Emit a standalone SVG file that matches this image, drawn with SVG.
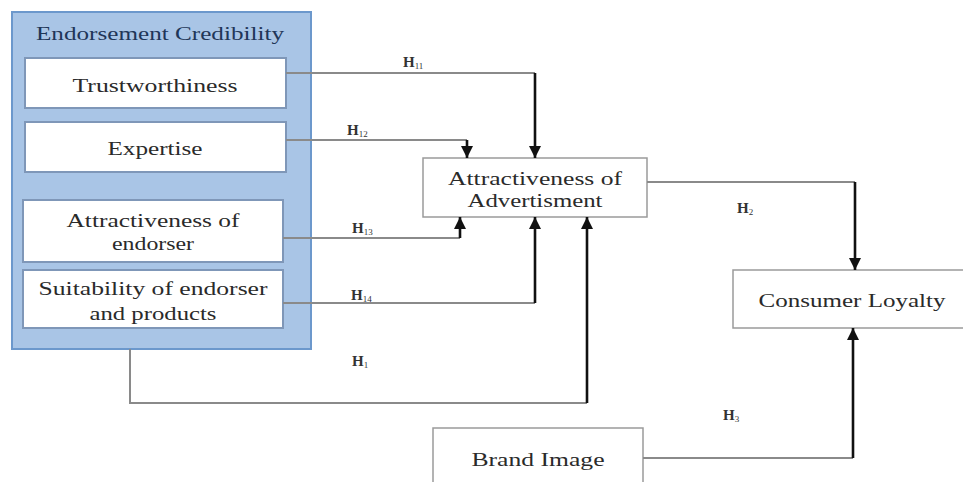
<svg xmlns="http://www.w3.org/2000/svg" width="963" height="482" viewBox="0 0 963 482">
<style>
.t{font-family:"Liberation Serif","Times New Roman",serif;font-size:19px;fill:#2a2a2a;text-anchor:middle}
.lab{font-family:"Liberation Serif","Times New Roman",serif;font-size:15px;fill:#333;font-weight:bold}
.sub{font-size:9px;font-weight:normal}
.inner{fill:#fff;stroke:#7f97b8;stroke-width:2}
.box{fill:#fff;stroke:#9a9a9a;stroke-width:1.5}
.h{fill:none;stroke:#8a8a8a;stroke-width:2}
.v{fill:none;stroke:#111;stroke-width:2.6;marker-end:url(#arr)}
</style>
<defs>
<marker id="arr" markerUnits="userSpaceOnUse" markerWidth="12" markerHeight="12" refX="10" refY="5" orient="auto" viewBox="0 0 10 10">
<path d="M0,0 L10,5 L0,10 z" fill="#111"/>
</marker>
</defs>
<rect width="963" height="482" fill="#fff"/>
<g id="endorsement-credibility">
<rect x="12" y="12" width="299" height="337" fill="#a9c5e6" stroke="#6c98cc" stroke-width="2"/>
<text x="160" y="40" class="t" style="fill:#1f3658;font-size:18px" textLength="248" lengthAdjust="spacingAndGlyphs">Endorsement Credibility</text>
</g>
<g id="trustworthiness">
<rect x="25" y="58" width="261" height="50" class="inner"/>
<text x="155" y="92" class="t" textLength="165" lengthAdjust="spacingAndGlyphs">Trustworthiness</text>
</g>
<g id="expertise">
<rect x="25" y="122" width="261" height="50" class="inner"/>
<text x="155" y="155" class="t" textLength="95" lengthAdjust="spacingAndGlyphs">Expertise</text>
</g>
<g id="attractiveness-endorser">
<rect x="23" y="200" width="260" height="62" class="inner"/>
<text x="153" y="227" class="t" textLength="173" lengthAdjust="spacingAndGlyphs">Attractiveness of</text>
<text x="153" y="250" class="t" textLength="82" lengthAdjust="spacingAndGlyphs">endorser</text>
</g>
<g id="suitability">
<rect x="23" y="270" width="260" height="58" class="inner"/>
<text x="153" y="295" class="t" textLength="229" lengthAdjust="spacingAndGlyphs">Suitability of endorser</text>
<text x="153" y="320" class="t" textLength="127" lengthAdjust="spacingAndGlyphs">and products</text>
</g>
<g id="attractiveness-advertisment">
<rect x="423" y="158" width="224" height="59" class="box"/>
<text x="535" y="185" class="t" textLength="174" lengthAdjust="spacingAndGlyphs">Attractiveness of</text>
<text x="535" y="207" class="t" textLength="135" lengthAdjust="spacingAndGlyphs">Advertisment</text>
</g>
<g id="consumer-loyalty">
<rect x="733" y="270" width="240" height="58" class="box"/>
<text x="852" y="307" class="t" textLength="187" lengthAdjust="spacingAndGlyphs">Consumer Loyalty</text>
</g>
<g id="brand-image">
<rect x="433" y="428" width="210" height="60" class="box"/>
<text x="538" y="466" class="t" textLength="133" lengthAdjust="spacingAndGlyphs">Brand Image</text>
</g>
<g id="connectors">
<path class="h" d="M286,73 H535"/>
<path class="v" d="M535,73 V158"/>
<path class="h" d="M286,140 H467"/>
<path class="v" d="M467,140 V158"/>
<path class="h" d="M283,238 H460"/>
<path class="v" d="M460,238 V217"/>
<path class="h" d="M283,303 H535"/>
<path class="v" d="M535,303 V217"/>
<path class="h" d="M130,349 V403 H587"/>
<path class="v" d="M587,403 V217"/>
<path class="h" d="M647,182 H855"/>
<path class="v" d="M855,182 V270"/>
<path class="h" d="M643,458 H853"/>
<path class="v" d="M853,458 V328"/>
<text x="403" y="67" class="lab">H<tspan class="sub" dy="2">11</tspan></text>
<text x="347" y="135" class="lab">H<tspan class="sub" dy="2">12</tspan></text>
<text x="352" y="233" class="lab">H<tspan class="sub" dy="2">13</tspan></text>
<text x="351" y="300" class="lab">H<tspan class="sub" dy="2">14</tspan></text>
<text x="352" y="366" class="lab">H<tspan class="sub" dy="2">1</tspan></text>
<text x="737" y="213" class="lab">H<tspan class="sub" dy="2">2</tspan></text>
<text x="723" y="420" class="lab">H<tspan class="sub" dy="2">3</tspan></text>
</g>
</svg>
